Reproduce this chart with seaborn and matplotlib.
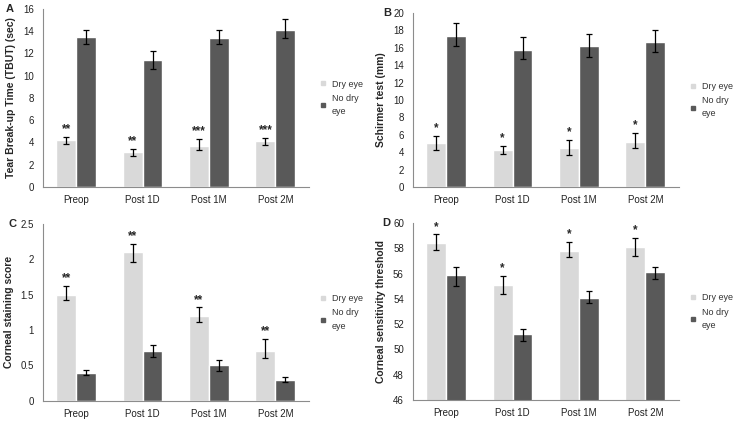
import numpy as np
import pandas as pd
import matplotlib
matplotlib.use("Agg")
import matplotlib.pyplot as plt
import seaborn as sns
from matplotlib.lines import Line2D

# time points and groups
timepoints = ["Preop", "Post 1D", "Post 1M", "Post 2M"]
groups = ["Dry eye", "No dry eye"]

# A: TBUT (sec)
tbut_dry = [4.2, 3.1, 3.7, 4.1]
tbut_dry_lo = [3.9, 2.8, 3.3, 3.8]
tbut_dry_hi = [4.5, 3.4, 4.3, 4.4]
tbut_no = [13.5, 11.4, 13.4, 14.1]
tbut_no_lo = [12.8, 10.6, 12.8, 13.4]
tbut_no_hi = [14.1, 12.2, 14.1, 15.1]
tbut_stars = ["**", "**", "***", "***"]

# B: Schirmer test (mm)
sch_dry = [5.1, 4.2, 4.5, 5.2]
sch_dry_lo = [4.3, 3.8, 3.7, 4.5]
sch_dry_hi = [5.9, 4.7, 5.4, 6.2]
sch_no = [17.4, 15.7, 16.2, 16.7]
sch_no_lo = [16.2, 14.7, 15.0, 15.5]
sch_no_hi = [18.9, 17.3, 17.6, 18.0]
sch_stars = ["*", "*", "*", "*"]

# C: corneal staining score
stain_dry = [1.5, 2.1, 1.2, 0.7]
stain_dry_lo = [1.42, 1.96, 1.11, 0.60]
stain_dry_hi = [1.62, 2.22, 1.32, 0.87]
stain_no = [0.4, 0.7, 0.5, 0.3]
stain_no_lo = [0.36, 0.62, 0.42, 0.27]
stain_no_hi = [0.44, 0.79, 0.58, 0.34]
stain_stars = ["**", "**", "**", "**"]

# D: corneal sensitivity threshold
sens_dry = [58.4, 55.1, 57.8, 58.1]
sens_dry_lo = [57.9, 54.4, 57.3, 57.4]
sens_dry_hi = [59.1, 55.8, 58.5, 58.8]
sens_no = [55.9, 51.2, 54.1, 56.1]
sens_no_lo = [55.0, 50.7, 53.7, 55.6]
sens_no_hi = [56.5, 51.6, 54.6, 56.5]
sens_stars = ["*", "*", "*", "*"]

palette = {"Dry eye": "#d9d9d9", "No dry eye": "#595959"}
axis_grey = "#8c8c8c"

sns.set_style("white")
plt.rcParams["font.family"] = ["Liberation Sans", "DejaVu Sans"]


def panel(ax, letter, letter_x, ylabel, dry, dry_lo, dry_hi, no, no_lo, no_hi, stars, ylim, step):
    df = pd.DataFrame({
        "Time": timepoints * 2,
        "Group": [groups[0]] * 4 + [groups[1]] * 4,
        "Value": dry + no,
    })
    sns.barplot(data=df, x="Time", y="Value", hue="Group", order=timepoints,
                hue_order=groups, palette=palette, width=0.6, errorbar=None,
                saturation=1, ax=ax, legend=False)
    span = ylim[1] - ylim[0]
    for cont, lo, hi, mark in zip(ax.containers, [dry_lo, no_lo], [dry_hi, no_hi], [stars, None]):
        xs = [b.get_x() + b.get_width() / 2 for b in cont]
        ys = [b.get_height() + b.get_y() for b in cont]
        err = [np.subtract(ys, lo), np.subtract(hi, ys)]
        ax.errorbar(xs, ys, yerr=err, fmt="none", ecolor="black", elinewidth=0.9,
                    capsize=2.2, capthick=0.9)
        if mark is not None:
            for x, h, s in zip(xs, hi, mark):
                ax.text(x, h + span * 0.01, s, ha="center", va="bottom",
                        fontsize=8.5, fontweight="bold")
    ticks = np.arange(ylim[0], ylim[1] + step / 2, step)
    ax.set_ylim(*ylim)
    ax.set_yticks(ticks)
    ax.set_yticklabels([f"{v:g}" for v in ticks])
    ax.set_xlim(-0.5, 3.5)
    ax.set_xlabel("")
    ax.set_ylabel(ylabel, fontsize=7.5, fontweight="bold", labelpad=5)
    ax.set_xticks(np.arange(-0.5, 4, 1), minor=True)
    ax.tick_params(axis="x", which="major", length=0, labelsize=7, pad=6, labelcolor="#222222")
    ax.tick_params(axis="x", which="minor", length=3, color=axis_grey, direction="out")
    ax.tick_params(axis="y", length=3, color=axis_grey, direction="out", labelsize=7,
                   labelcolor="#222222")
    sns.despine(ax=ax)
    for sp in ["left", "bottom"]:
        ax.spines[sp].set_color(axis_grey)
        ax.spines[sp].set_linewidth(0.8)
    ax.text(letter_x, 1.0, letter, transform=ax.transAxes, fontsize=8, fontweight="bold",
            ha="left", va="center")
    handles = [Line2D([], [], ls="none", marker="s", markersize=3.5,
                      markerfacecolor=palette[g], markeredgecolor=palette[g]) for g in groups]
    leg = ax.legend(handles, ["Dry eye", "No dry\neye"], loc="center left",
                    bbox_to_anchor=(1.01, 0.5), frameon=False, fontsize=6.5,
                    handlelength=0.8, handletextpad=0.6, labelspacing=0.6)
    for t in leg.get_texts():
        t.set_linespacing(1.6)
        t.set_color("#333333")


fig = plt.figure(figsize=(7.4, 4.21), dpi=100)
axA = fig.add_axes([0.058, 0.556, 0.359, 0.423])
axB = fig.add_axes([0.558, 0.556, 0.359, 0.413])
axC = fig.add_axes([0.058, 0.048, 0.359, 0.420])
axD = fig.add_axes([0.558, 0.050, 0.359, 0.420])

panel(axA, "A", -0.14, "Tear Break-up Time (TBUT) (sec)", tbut_dry, tbut_dry_lo, tbut_dry_hi,
      tbut_no, tbut_no_lo, tbut_no_hi, tbut_stars, (0, 16), 2)
panel(axB, "B", -0.11, "Schirmer test (mm)", sch_dry, sch_dry_lo, sch_dry_hi,
      sch_no, sch_no_lo, sch_no_hi, sch_stars, (0, 20), 2)
panel(axC, "C", -0.13, "Corneal staining score", stain_dry, stain_dry_lo, stain_dry_hi,
      stain_no, stain_no_lo, stain_no_hi, stain_stars, (0, 2.5), 0.5)
panel(axD, "D", -0.115, "Corneal sensitivity threshold", sens_dry, sens_dry_lo, sens_dry_hi,
      sens_no, sens_no_lo, sens_no_hi, sens_stars, (46, 60), 2)

fig.savefig("out.png", dpi=100, facecolor="white")
